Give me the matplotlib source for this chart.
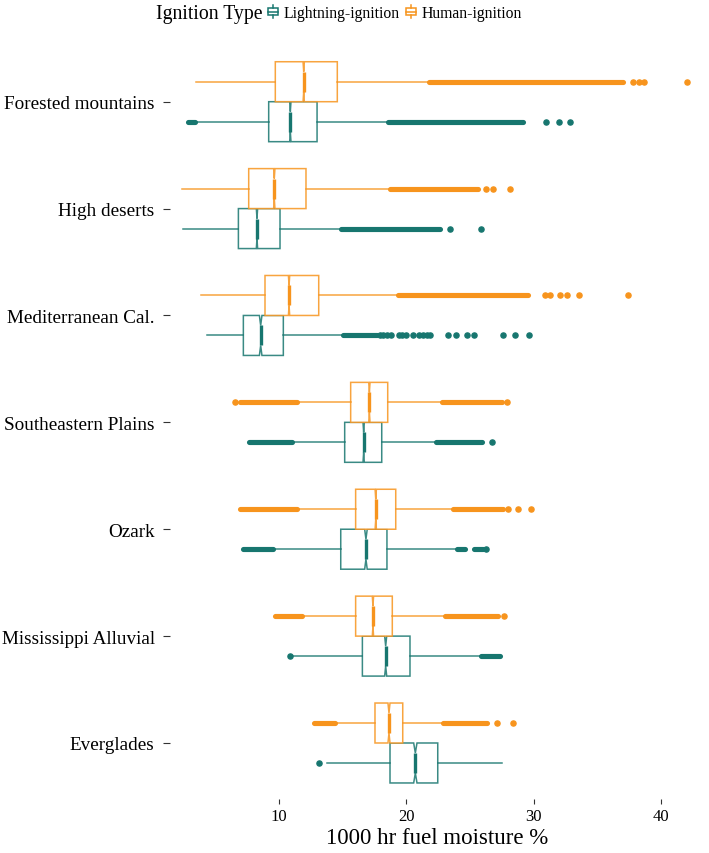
import numpy as np
import matplotlib
matplotlib.use("Agg")
import matplotlib.pyplot as plt
from matplotlib.patches import Patch, Rectangle
from matplotlib.lines import Line2D
from matplotlib.legend_handler import HandlerBase

plt.rcParams['font.family'] = ['Liberation Serif', 'DejaVu Serif']

# categories, bottom to top
regions = ["Everglades", "Mississippi Alluvial", "Ozark", "Southeastern Plains",
           "Mediterranean Cal.", "High deserts", "Forested mountains"]

# Lightning-ignition summaries
lt_whislo = [13.75, 10.95, 9.5, 11.0, 4.32, 2.43, 3.5]
lt_q1 = [18.72, 16.55, 14.85, 15.16, 7.20, 6.81, 9.19]
lt_med = [20.71, 18.38, 16.83, 16.65, 8.56, 8.27, 10.89]
lt_q3 = [22.47, 20.29, 18.48, 18.07, 10.34, 10.08, 12.99]
lt_whishi = [27.54, 25.84, 24.0, 22.31, 15.0, 14.85, 18.59]
lt_notch = [0.13, 0.08, 0.10, 0.05, 0.10, 0.05, 0.05]
lt_bands = [[],
            [(25.84, 27.36)],
            [(7.15, 9.5), (24.0, 24.6), (25.3, 26.0)],
            [(7.67, 11.0), (22.31, 25.92)],
            [(15.0, 17.67)],
            [(14.85, 22.65)],
            [(2.88, 3.4), (18.59, 29.2)]]
lt_points = [[13.17],
             [10.84],
             [26.3],
             [26.76],
             [17.9, 18.2, 18.5, 18.8, 19.4, 19.7, 20.0, 20.5, 21.0, 21.3, 21.6, 21.9,
              23.3, 23.9, 24.8, 25.3, 27.6, 28.5, 29.6],
             [23.43, 25.84],
             [30.95, 31.97, 32.86]]

# Human-ignition summaries
hu_whislo = [14.4, 11.83, 11.39, 11.39, 3.87, 2.36, 3.48]
hu_q1 = [17.54, 16.02, 16.02, 15.63, 8.90, 7.62, 9.71]
hu_med = [18.64, 17.38, 17.60, 17.10, 10.79, 9.63, 11.94]
hu_q3 = [19.72, 18.90, 19.17, 18.54, 13.12, 12.12, 14.58]
hu_whishi = [22.86, 23.04, 23.69, 22.78, 19.32, 18.72, 21.76]
hu_notch = [0.08, 0.05, 0.05, 0.05, 0.05, 0.05, 0.05]
hu_bands = [[(12.75, 14.4), (22.86, 26.32)],
            [(9.69, 11.83), (23.04, 27.2)],
            [(6.94, 11.39), (23.69, 27.6)],
            [(6.94, 11.39), (22.78, 27.5)],
            [(19.32, 29.58)],
            [(18.72, 25.66)],
            [(21.76, 37.05)]]
hu_points = [[27.15, 28.41],
             [27.7],
             [28.0, 28.8, 29.77],
             [6.54, 27.94],
             [30.9, 31.3, 32.07, 32.6, 33.54, 37.39],
             [26.3, 26.8, 28.15],
             [37.8, 38.3, 38.7, 42.07]]

xticks = [10, 20, 30, 40]

teal = '#17766f'
orange = '#f7941d'

fig = plt.figure(figsize=(7.09, 8.54), dpi=100)
ax = fig.add_axes([170/709, 54/854, 535/709, 753.3/854])

pos = np.arange(1, len(regions) + 1)
off = 0.187
bw = 0.374
dot = 3.7


def draw(whislo, q1, med, q3, whishi, notch, bands, points, shift, color):
    stats = []
    for i in range(len(regions)):
        stats.append(dict(whislo=whislo[i], q1=q1[i], med=med[i], q3=q3[i],
                          whishi=whishi[i], cilo=med[i] - notch[i],
                          cihi=med[i] + notch[i], fliers=points[i]))
    ax.bxp(stats, positions=pos + shift, widths=bw, orientation='horizontal',
           shownotches=True, showcaps=False, patch_artist=True,
           boxprops=dict(facecolor='white', edgecolor=color, linewidth=1.1, alpha=0.85),
           whiskerprops=dict(color=color, linewidth=1.1, alpha=0.85),
           medianprops=dict(color=color, linewidth=2.4),
           flierprops=dict(marker='o', markersize=dot, markerfacecolor=color,
                           markeredgecolor=color, linestyle='none'),
           manage_ticks=False, zorder=2)
    for i, bl in enumerate(bands):
        for a, b in bl:
            ax.hlines(pos[i] + shift, a, b, colors=color, linewidth=dot,
                      capstyle='round', zorder=3)


draw(lt_whislo, lt_q1, lt_med, lt_q3, lt_whishi, lt_notch, lt_bands, lt_points, -off, teal)
draw(hu_whislo, hu_q1, hu_med, hu_q3, hu_whishi, hu_notch, hu_bands, hu_points, off, orange)

ax.set_xlim((170 - 151.7) / 12.73, (705 - 151.7) / 12.73)
ax.set_ylim(0.476, 7.524)
ax.set_yticks(pos)
ax.set_yticklabels(regions, fontsize=13.8)
ax.set_xticks(xticks)
ax.set_xticklabels([str(t) for t in xticks], fontsize=12)
ax.tick_params(axis='y', length=5, width=0.8, color='#333333', pad=6)
ax.tick_params(axis='x', length=3.8, width=0.8, color='#333333', pad=3)
for s in ax.spines.values():
    s.set_visible(False)
ax.set_xlabel("1000 hr fuel moisture %", fontsize=16.5, labelpad=2)


class BoxIcon(HandlerBase):
    def create_artists(self, legend, orig_handle, xdescent, ydescent, width, height,
                       fontsize, trans):
        c = orig_handle.get_edgecolor()
        x0, y0 = -xdescent, -ydescent
        r = Rectangle((x0 + 0.1 * width, y0 + 0.22 * height), 0.8 * width, 0.56 * height,
                      facecolor='white', edgecolor=c, linewidth=1.1, transform=trans)
        m = Line2D([x0 + 0.1 * width, x0 + 0.9 * width], [y0 + 0.5 * height] * 2,
                   color=c, linewidth=1.1, transform=trans)
        w1 = Line2D([x0 + 0.5 * width] * 2, [y0, y0 + 0.22 * height], color=c,
                    linewidth=1.1, transform=trans)
        w2 = Line2D([x0 + 0.5 * width] * 2, [y0 + 0.78 * height, y0 + height], color=c,
                    linewidth=1.1, transform=trans)
        return [r, m, w1, w2]


handles = [Patch(edgecolor=teal, facecolor='white', label='Lightning-ignition'),
           Patch(edgecolor=orange, facecolor='white', label='Human-ignition')]
fig.text(156/709, 1 - 14/854, "Ignition Type", fontsize=14.2, va='center', ha='left')
fig.legend(handles=handles, loc='center left', bbox_to_anchor=(267/709, 1 - 14/854),
           ncol=2, frameon=False, fontsize=11.3, handlelength=0.8, handleheight=0.95,
           handletextpad=0.25, columnspacing=0.35, borderaxespad=0, borderpad=0,
           handler_map={Patch: BoxIcon()})

fig.savefig("out.png", dpi=100)
